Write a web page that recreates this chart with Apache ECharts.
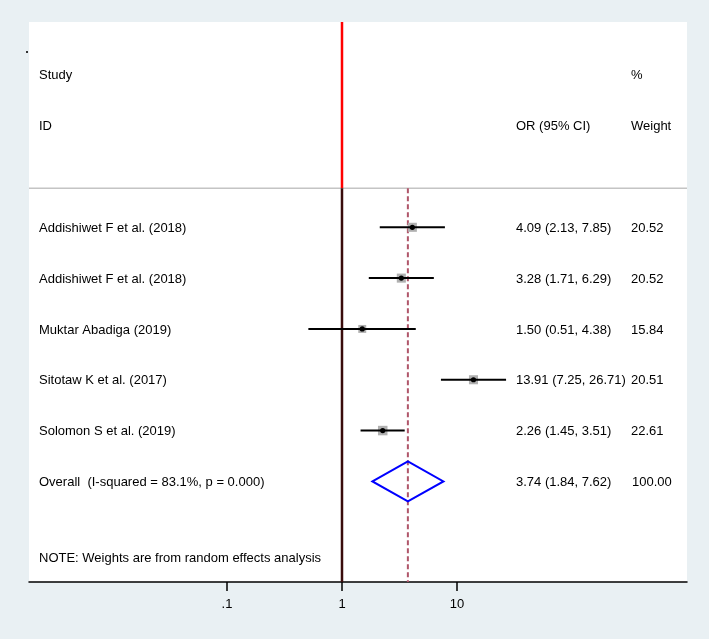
<!DOCTYPE html>
<html>
<head>
<meta charset="utf-8">
<script src="https://cdn.jsdelivr.net/npm/echarts@6/dist/echarts.min.js"></script>
<style>
html,body{margin:0;padding:0;background:#e9f0f3;}
#chart{width:709px;height:639px;}
</style>
</head>
<body>
<div id="chart"></div>
<script>
// ---- data ----
const studies = ["Addishiwet F et al. (2018)", "Addishiwet F et al. (2018)", "Muktar Abadiga (2019)", "Sitotaw K et al. (2017)", "Solomon S et al. (2019)"];
const orValues = [4.09, 3.28, 1.50, 13.91, 2.26];
const lowerCI = [2.13, 1.71, 0.51, 7.25, 1.45];
const upperCI = [7.85, 6.29, 4.38, 26.71, 3.51];
const weights = [20.52, 20.52, 15.84, 20.51, 22.61];
const overallLabel = "Overall  (I-squared = 83.1%, p = 0.000)";
const overallOR = 3.74;
const overallLower = 1.84;
const overallUpper = 7.62;
const overallWeight = 100.00;
const tickValues = [0.1, 1, 10];
const tickLabels = [".1", "1", "10"];
const headerLeft = ["Study", "ID"];
const headerOR = "OR (95% CI)";
const headerWeight = ["%", "Weight"];
const noteText = "NOTE: Weights are from random effects analysis";
const nullValue = 1;

// ---- layout (row positions on the y scale) ----
const rowStart = 4;           // first study row
const headerRows = [1, 2];
const sepRow = 3.23;
const noteRow = 10.5;
const yMin = -0.04, yMax = 10.98;
const colLabelX = 39, colORX = 516, colWtX = 631;
const FONT = '13px "Liberation Sans", Arial, sans-serif';

const fmt = v => v.toFixed(2);
const studyData = studies.map((s, i) => [orValues[i], lowerCI[i], upperCI[i], rowStart + i, weights[i], i]);
const overallRow = rowStart + studies.length;

function txt(x, y, text, align) {
  return {type: 'text', style: {x: x, y: y + 1, text: text, font: FONT, fill: '#000', textAlign: align || 'left', textVerticalAlign: 'middle'}};
}

const chart = echarts.init(document.getElementById('chart'), null, {renderer: 'canvas'});
const option = {
  backgroundColor: '#e9f0f3',
  animation: false,
  grid: {left: 29, right: 22, top: 22, bottom: 57, show: true, backgroundColor: '#ffffff', borderWidth: 0},
  xAxis: {
    type: 'log', logBase: 10,
    min: Math.pow(10, -2.7217), max: 1000,
    splitLine: {show: false},
    axisLine: {show: true, onZero: false, lineStyle: {color: '#000', width: 1.5}},
    axisTick: {show: true, customValues: tickValues, length: 9, lineStyle: {color: '#000', width: 1.5}},
    axisLabel: {show: true, customValues: tickValues, margin: 16, fontFamily: '"Liberation Sans", Arial, sans-serif', fontSize: 13, color: '#000',
      formatter: v => { const k = tickValues.findIndex(t => Math.abs(t - v) < 1e-9); return k >= 0 ? tickLabels[k] : ''; }}
  },
  yAxis: {type: 'value', min: yMin, max: yMax, inverse: true, show: false},
  graphic: [{type: 'rect', shape: {x: 26, y: 51, width: 2, height: 2}, style: {fill: '#333'}}],
  series: [
    // reference lines & separators
    {
      type: 'custom', coordinateSystem: 'cartesian2d', data: [[0]], clip: false, silent: true,
      renderItem: function (params, api) {
        const cs = params.coordSys;
        const xNull = api.coord([nullValue, 0])[0];
        const xOv = api.coord([overallOR, 0])[0];
        const ySep = api.coord([1, sepRow])[1];
        const yTop = cs.y, yBot = cs.y + cs.height;
        return {type: 'group', children: [
          {type: 'line', shape: {x1: cs.x, y1: ySep, x2: cs.x + cs.width, y2: ySep}, style: {stroke: '#c4c4c4', lineWidth: 1.5}},
          {type: 'line', shape: {x1: xNull, y1: yTop, x2: xNull, y2: ySep}, style: {stroke: '#ff0000', lineWidth: 2.5}},
          {type: 'line', shape: {x1: xNull, y1: ySep, x2: xNull, y2: yBot}, style: {stroke: '#3a0c0c', lineWidth: 2.5}},
          {type: 'line', shape: {x1: xOv, y1: ySep, x2: xOv, y2: yBot}, style: {stroke: '#b0566a', lineWidth: 2, lineDash: [5, 3]}}
        ]};
      }
    },
    // header & note text
    {
      type: 'custom', coordinateSystem: 'cartesian2d', data: [[0]], clip: false, silent: true,
      renderItem: function (params, api) {
        const y1 = api.coord([1, headerRows[0]])[1];
        const y2 = api.coord([1, headerRows[1]])[1];
        const yN = api.coord([1, noteRow])[1];
        return {type: 'group', children: [
          txt(colLabelX, y1, headerLeft[0]), txt(colLabelX, y2, headerLeft[1]),
          txt(colORX, y2, headerOR),
          txt(colWtX, y1, headerWeight[0]), txt(colWtX, y2, headerWeight[1]),
          txt(colLabelX, yN, noteText)
        ]};
      }
    },
    // study rows
    {
      type: 'custom', coordinateSystem: 'cartesian2d', data: studyData, clip: false, silent: true,
      renderItem: function (params, api) {
        const est = api.value(0), lo = api.value(1), hi = api.value(2), row = api.value(3), w = api.value(4);
        const i = api.value(5);
        const pE = api.coord([est, row]);
        const pL = api.coord([lo, row]);
        const pH = api.coord([hi, row]);
        const s = 2.0 * Math.sqrt(w);
        return {type: 'group', children: [
          {type: 'rect', shape: {x: pE[0] - s / 2, y: pE[1] - s / 2, width: s, height: s}, style: {fill: '#b0b0b0'}},
          {type: 'line', shape: {x1: pL[0], y1: pL[1], x2: pH[0], y2: pH[1]}, style: {stroke: '#000', lineWidth: 2}},
          {type: 'circle', shape: {cx: pE[0], cy: pE[1], r: 2.6}, style: {fill: '#000'}},
          txt(colLabelX, pE[1], studies[i]),
          txt(colORX, pE[1], fmt(orValues[i]) + ' (' + fmt(lowerCI[i]) + ', ' + fmt(upperCI[i]) + ')'),
          txt(colWtX, pE[1], fmt(weights[i]))
        ]};
      }
    },
    // overall diamond
    {
      type: 'custom', coordinateSystem: 'cartesian2d', data: [[overallOR, overallLower, overallUpper, overallRow]], clip: false, silent: true,
      renderItem: function (params, api) {
        const est = api.value(0), lo = api.value(1), hi = api.value(2), row = api.value(3);
        const h = 0.395;
        const pts = [api.coord([lo, row]), api.coord([est, row - h]), api.coord([hi, row]), api.coord([est, row + h])];
        const yc = pts[0][1];
        return {type: 'group', children: [
          {type: 'polygon', shape: {points: pts}, style: {fill: 'none', stroke: '#0000ff', lineWidth: 2}},
          txt(colLabelX, yc, overallLabel),
          txt(colORX, yc, fmt(overallOR) + ' (' + fmt(overallLower) + ', ' + fmt(overallUpper) + ')'),
          txt(colWtX + 1, yc, fmt(overallWeight))
        ]};
      }
    }
  ]
};
chart.setOption(option);
</script>
</body>
</html>
